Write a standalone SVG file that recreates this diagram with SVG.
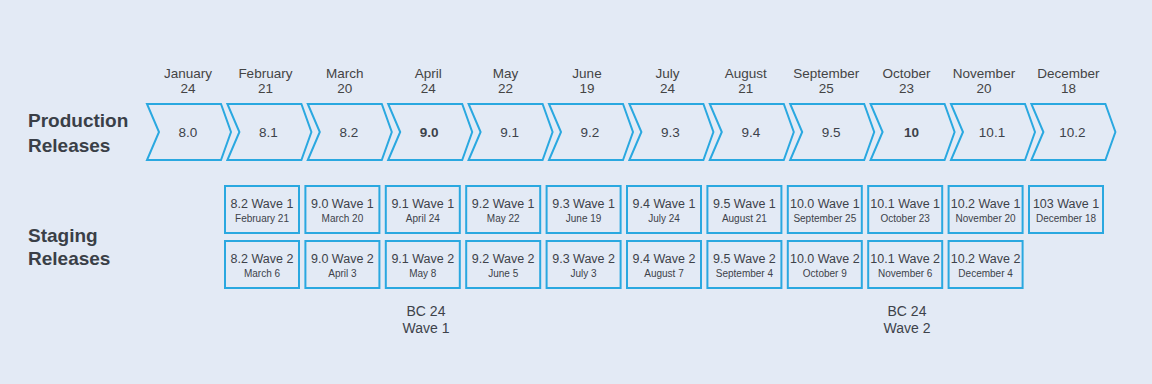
<svg xmlns="http://www.w3.org/2000/svg" width="1152" height="384" viewBox="0 0 1152 384">
<style>
text{font-family:"Liberation Sans",Arial,sans-serif;fill:#3d424a;text-anchor:middle}
.hd{font-size:19px;font-weight:bold;text-anchor:start;fill:#3a3f47}
.mo{font-size:13.5px;fill:#444}
.ver{font-size:13.5px}
.b{font-weight:bold}
.chev{fill:#e3eaf5;stroke:#2aa8e0;stroke-width:2;stroke-linejoin:miter}
.box{fill:#e3eaf5;stroke:#2aa8e0;stroke-width:2}
.t1{font-size:12.5px}
.t2{font-size:10px}
.bc{font-size:14px}
</style>
<defs>
<polygon id="chev" class="chev" points="0,104 74,104 84,132 74,160 0,160 12,132"/>
</defs>
<rect width="1152" height="384" fill="#e3eaf5"/>
<g id="labels">
<text class="hd" x="28" y="127">Production</text>
<text class="hd" x="28" y="152">Releases</text>
<text class="hd" x="28" y="242">Staging</text>
<text class="hd" x="28" y="265">Releases</text>
</g>
<g id="production">
<g id="p0"><use href="#chev" x="147"/><text class="mo" x="188" y="78">January</text><text class="mo" x="188" y="93">24</text><text class="ver" x="188" y="137">8.0</text></g>
<g id="p1"><use href="#chev" x="227.4"/><text class="mo" x="265.4" y="78">February</text><text class="mo" x="265.4" y="93">21</text><text class="ver" x="268.4" y="137">8.1</text></g>
<g id="p2"><use href="#chev" x="307.8"/><text class="mo" x="344.8" y="78">March</text><text class="mo" x="344.8" y="93">20</text><text class="ver" x="348.8" y="137">8.2</text></g>
<g id="p3"><use href="#chev" x="388.2"/><text class="mo" x="428.2" y="78">April</text><text class="mo" x="428.2" y="93">24</text><text class="ver b" x="429.2" y="137">9.0</text></g>
<g id="p4"><use href="#chev" x="468.6"/><text class="mo" x="505.6" y="78">May</text><text class="mo" x="505.6" y="93">22</text><text class="ver" x="509.6" y="137">9.1</text></g>
<g id="p5"><use href="#chev" x="549"/><text class="mo" x="587" y="78">June</text><text class="mo" x="587" y="93">19</text><text class="ver" x="590" y="137">9.2</text></g>
<g id="p6"><use href="#chev" x="629.4"/><text class="mo" x="667.4" y="78">July</text><text class="mo" x="667.4" y="93">24</text><text class="ver" x="670.4" y="137">9.3</text></g>
<g id="p7"><use href="#chev" x="709.8"/><text class="mo" x="745.8" y="78">August</text><text class="mo" x="745.8" y="93">21</text><text class="ver" x="750.8" y="137">9.4</text></g>
<g id="p8"><use href="#chev" x="790.2"/><text class="mo" x="826.2" y="78">September</text><text class="mo" x="826.2" y="93">25</text><text class="ver" x="831.2" y="137">9.5</text></g>
<g id="p9"><use href="#chev" x="870.6"/><text class="mo" x="906.6" y="78">October</text><text class="mo" x="906.6" y="93">23</text><text class="ver b" x="911.6" y="137">10</text></g>
<g id="p10"><use href="#chev" x="951"/><text class="mo" x="984" y="78">November</text><text class="mo" x="984" y="93">20</text><text class="ver" x="992" y="137">10.1</text></g>
<g id="p11"><use href="#chev" x="1031.4"/><text class="mo" x="1068.4" y="78">December</text><text class="mo" x="1068.4" y="93">18</text><text class="ver" x="1072.4" y="137">10.2</text></g>
</g>
<g id="staging">
<g id="s0a"><rect class="box" x="225" y="186" width="74" height="47"/><text class="t1" x="262" y="208">8.2 Wave 1</text><text class="t2" x="262" y="222">February 21</text></g>
<g id="s1a"><rect class="box" x="305.4" y="186" width="74" height="47"/><text class="t1" x="342.4" y="208">9.0 Wave 1</text><text class="t2" x="342.4" y="222">March 20</text></g>
<g id="s2a"><rect class="box" x="385.8" y="186" width="74" height="47"/><text class="t1" x="422.8" y="208">9.1 Wave 1</text><text class="t2" x="422.8" y="222">April 24</text></g>
<g id="s3a"><rect class="box" x="466.2" y="186" width="74" height="47"/><text class="t1" x="503.2" y="208">9.2 Wave 1</text><text class="t2" x="503.2" y="222">May 22</text></g>
<g id="s4a"><rect class="box" x="546.6" y="186" width="74" height="47"/><text class="t1" x="583.6" y="208">9.3 Wave 1</text><text class="t2" x="583.6" y="222">June 19</text></g>
<g id="s5a"><rect class="box" x="627" y="186" width="74" height="47"/><text class="t1" x="664" y="208">9.4 Wave 1</text><text class="t2" x="664" y="222">July 24</text></g>
<g id="s6a"><rect class="box" x="707.4" y="186" width="74" height="47"/><text class="t1" x="744.4" y="208">9.5 Wave 1</text><text class="t2" x="744.4" y="222">August 21</text></g>
<g id="s7a"><rect class="box" x="787.8" y="186" width="74" height="47"/><text class="t1" x="824.8" y="208">10.0 Wave 1</text><text class="t2" x="824.8" y="222">September 25</text></g>
<g id="s8a"><rect class="box" x="868.2" y="186" width="74" height="47"/><text class="t1" x="905.2" y="208">10.1 Wave 1</text><text class="t2" x="905.2" y="222">October 23</text></g>
<g id="s9a"><rect class="box" x="948.6" y="186" width="74" height="47"/><text class="t1" x="985.6" y="208">10.2 Wave 1</text><text class="t2" x="985.6" y="222">November 20</text></g>
<g id="s10a"><rect class="box" x="1029" y="186" width="74" height="47"/><text class="t1" x="1066" y="208">103 Wave 1</text><text class="t2" x="1066" y="222">December 18</text></g>
<g id="s0b"><rect class="box" x="225" y="241" width="74" height="47"/><text class="t1" x="262" y="263">8.2 Wave 2</text><text class="t2" x="262" y="277">March 6</text></g>
<g id="s1b"><rect class="box" x="305.4" y="241" width="74" height="47"/><text class="t1" x="342.4" y="263">9.0 Wave 2</text><text class="t2" x="342.4" y="277">April 3</text></g>
<g id="s2b"><rect class="box" x="385.8" y="241" width="74" height="47"/><text class="t1" x="422.8" y="263">9.1 Wave 2</text><text class="t2" x="422.8" y="277">May 8</text></g>
<g id="s3b"><rect class="box" x="466.2" y="241" width="74" height="47"/><text class="t1" x="503.2" y="263">9.2 Wave 2</text><text class="t2" x="503.2" y="277">June 5</text></g>
<g id="s4b"><rect class="box" x="546.6" y="241" width="74" height="47"/><text class="t1" x="583.6" y="263">9.3 Wave 2</text><text class="t2" x="583.6" y="277">July 3</text></g>
<g id="s5b"><rect class="box" x="627" y="241" width="74" height="47"/><text class="t1" x="664" y="263">9.4 Wave 2</text><text class="t2" x="664" y="277">August 7</text></g>
<g id="s6b"><rect class="box" x="707.4" y="241" width="74" height="47"/><text class="t1" x="744.4" y="263">9.5 Wave 2</text><text class="t2" x="744.4" y="277">September 4</text></g>
<g id="s7b"><rect class="box" x="787.8" y="241" width="74" height="47"/><text class="t1" x="824.8" y="263">10.0 Wave 2</text><text class="t2" x="824.8" y="277">October 9</text></g>
<g id="s8b"><rect class="box" x="868.2" y="241" width="74" height="47"/><text class="t1" x="905.2" y="263">10.1 Wave 2</text><text class="t2" x="905.2" y="277">November 6</text></g>
<g id="s9b"><rect class="box" x="948.6" y="241" width="74" height="47"/><text class="t1" x="985.6" y="263">10.2 Wave 2</text><text class="t2" x="985.6" y="277">December 4</text></g>
</g>
<g id="bc">
<text class="bc" x="426" y="316">BC 24</text>
<text class="bc" x="426" y="333">Wave 1</text>
<text class="bc" x="907" y="316">BC 24</text>
<text class="bc" x="907" y="333">Wave 2</text>
</g>
<g id="connectors"/>
</svg>
